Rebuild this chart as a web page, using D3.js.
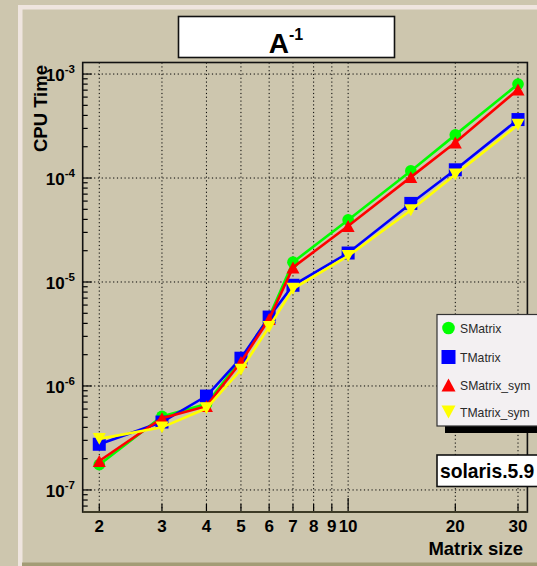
<!DOCTYPE html>
<html>
<head>
<meta charset="utf-8">
<script src="https://cdn.jsdelivr.net/npm/d3@7/dist/d3.min.js"></script>
<style>
html,body{margin:0;padding:0;background:#cdc6ae;}
svg{display:block;}
text{font-family:"Liberation Sans",Arial,Helvetica,sans-serif;}
</style>
</head>
<body>
<script>
// ---- data ----
const sizes = [2, 3, 4, 5, 6, 7, 10, 15, 20, 30];
const smatrix     = [1.75e-7, 5.1e-7, 6.7e-7, 1.8e-6, 4.6e-6, 1.55e-5, 3.95e-5, 1.17e-4, 2.6e-4, 8.0e-4];
const tmatrix     = [2.75e-7, 4.5e-7, 8.0e-7, 1.85e-6, 4.6e-6, 9.3e-6, 1.9e-5, 5.7e-5, 1.2e-4, 3.65e-4];
const smatrixSym  = [1.9e-7, 4.9e-7, 6.4e-7, 1.7e-6, 4.4e-6, 1.38e-5, 3.45e-5, 1.02e-4, 2.2e-4, 7.1e-4];
const tmatrixSym  = [3.1e-7, 4.0e-7, 6.1e-7, 1.43e-6, 3.7e-6, 8.6e-6, 1.78e-5, 4.9e-5, 1.08e-4, 3.25e-4];
const seriesNames = ["SMatrix", "TMatrix", "SMatrix_sym", "TMatrix_sym"];
const xTickValues = [2, 3, 4, 5, 6, 7, 8, 9, 10, 20, 30];
const yDecades = [-7, -6, -5, -4, -3];

const W = 537, H = 566;
const svg = d3.select("body").append("svg").attr("width", W).attr("height", H);

// background + pad bevel
svg.append("rect").attr("width", W).attr("height", H).attr("fill", "#cdc6ae");
svg.append("rect").attr("x", 18).attr("y", 5).attr("width", W - 18).attr("height", 4.5).attr("fill", "#efe5df");
svg.append("rect").attr("x", 18).attr("y", 5).attr("width", 4.5).attr("height", H - 5).attr("fill", "#efe5df");
svg.append("rect").attr("x", 22).attr("y", 562.5).attr("width", W - 22).attr("height", 4).attr("fill", "#a39c76");

// frame geometry
const fx0 = 82.7, fx1 = 527.4, fy0 = 62.5, fy1 = 512;
const x = d3.scaleLog().domain([Math.pow(10, 0.2545), Math.pow(10, 1.5035)]).range([fx0, fx1]);
const y = d3.scaleLog().domain([Math.pow(10, -7.212), Math.pow(10, -2.889)]).range([fy1, fy0]);

// grid
const grid = svg.append("g").attr("stroke", "#000").attr("stroke-width", 1).attr("stroke-dasharray", "1.2,2.6");
xTickValues.forEach(v => {
  grid.append("line").attr("x1", x(v)).attr("x2", x(v)).attr("y1", fy0).attr("y2", fy1);
});
yDecades.forEach(d => {
  const v = Math.pow(10, d);
  grid.append("line").attr("x1", fx0).attr("x2", fx1).attr("y1", y(v)).attr("y2", y(v));
});

// y ticks (major + minor) using the scale
const ytick = svg.append("g").attr("stroke", "#000").attr("stroke-width", 1.2);
const yMinor = [];
for (let d = -8; d <= -3; d++) for (let m = 1; m <= 9; m++) {
  const v = m * Math.pow(10, d);
  if (v >= y.domain()[0] && v <= y.domain()[1]) yMinor.push({v, major: m === 1});
}
yMinor.forEach(t => {
  ytick.append("line").attr("x1", fx0).attr("x2", fx0 + (t.major ? 9 : 5))
    .attr("y1", y(t.v)).attr("y2", y(t.v));
});
// x ticks
const xtick = svg.append("g").attr("stroke", "#000").attr("stroke-width", 1.2);
xTickValues.forEach(v => {
  xtick.append("line").attr("x1", x(v)).attr("x2", x(v)).attr("y1", fy1).attr("y2", fy1 - (v === 10 ? 14 : 8));
});

// frame
svg.append("rect").attr("x", fx0).attr("y", fy0).attr("width", fx1 - fx0).attr("height", fy1 - fy0)
  .attr("fill", "none").attr("stroke", "#111").attr("stroke-width", 1.6);
svg.append("line").attr("x1", fx0).attr("x2", fx1).attr("y1", fy1).attr("y2", fy1)
  .attr("stroke", "#3d3a26").attr("stroke-width", 2.2);

// y tick labels
yDecades.forEach(d => {
  const t = svg.append("text").attr("x", 75).attr("y", y(Math.pow(10, d)) + 7)
    .attr("text-anchor", "end").attr("font-weight", "bold").attr("font-size", 17).attr("fill", "#000");
  t.append("tspan").text("10");
  t.append("tspan").attr("font-size", 11.5).attr("dy", -8).text(String(d));
});
// x tick labels
xTickValues.forEach(v => {
  svg.append("text").attr("x", x(v)).attr("y", 532).attr("text-anchor", "middle")
    .attr("font-weight", "bold").attr("font-size", 17).attr("fill", "#000").text(v);
});

// axis titles
svg.append("text").attr("text-anchor", "end").attr("font-weight", "bold").attr("font-size", 18.5)
  .attr("transform", "translate(47,65) rotate(-90)").text("CPU Time");
svg.append("text").attr("x", 523).attr("y", 555).attr("text-anchor", "end").attr("font-weight", "bold")
  .attr("font-size", 18.5).text("Matrix size");

// title box
svg.append("rect").attr("x", 178.5).attr("y", 16.5).attr("width", 216).attr("height", 41)
  .attr("fill", "#fff").attr("stroke", "#111").attr("stroke-width", 1.6);
const tt = svg.append("text").attr("x", 286).attr("y", 53).attr("text-anchor", "middle")
  .attr("font-weight", "bold").attr("font-size", 28);
tt.append("tspan").text("A");
tt.append("tspan").attr("font-size", 16).attr("dy", -13).text("-1");

// markers
function marker(g, type, cx, cy, color, s) {
  if (type === "circle") {
    g.append("circle").attr("cx", cx).attr("cy", cy).attr("r", s * 0.45).attr("fill", color);
  } else if (type === "square") {
    g.append("rect").attr("x", cx - s / 2).attr("y", cy - s / 2).attr("width", s).attr("height", s).attr("fill", color);
  } else if (type === "up") {
    const h = s * 0.92;
    g.append("path").attr("d", `M${cx - s / 2},${cy + h / 2}L${cx + s / 2},${cy + h / 2}L${cx},${cy - h / 2}Z`).attr("fill", color);
  } else {
    const h = s * 0.92;
    g.append("path").attr("d", `M${cx - s / 2},${cy - h / 2}L${cx + s / 2},${cy - h / 2}L${cx},${cy + h / 2}Z`).attr("fill", color);
  }
}

const series = [
  {name: seriesNames[0], vals: smatrix, color: "#00ff00", type: "circle"},
  {name: seriesNames[1], vals: tmatrix, color: "#0000ff", type: "square"},
  {name: seriesNames[2], vals: smatrixSym, color: "#ff0000", type: "up"},
  {name: seriesNames[3], vals: tmatrixSym, color: "#ffff00", type: "down"}
];
const line = d3.line().x(d => x(d[0])).y(d => y(d[1]));
const plot = svg.append("g");
series.forEach(s => {
  const pts = sizes.map((v, i) => [v, s.vals[i]]);
  plot.append("path").datum(pts).attr("d", line).attr("fill", "none")
    .attr("stroke", s.color).attr("stroke-width", 2.6);
  pts.forEach(p => marker(plot, s.type, x(p[0]), y(p[1]), s.color, 13));
});

// legend
svg.append("rect").attr("x", 445).attr("y", 420).attr("width", 100).attr("height", 13).attr("fill", "#000");
svg.append("rect").attr("x", 437).attr("y", 314.5).attr("width", 110).attr("height", 111.5)
  .attr("fill", "#f3f0f2").attr("stroke", "#333").attr("stroke-width", 1.2);
const legY = [328, 357, 385, 412];
series.forEach((s, i) => {
  marker(svg, s.type, 448.5, legY[i], s.color, 14);
  svg.append("text").attr("x", 460).attr("y", legY[i] + 4.5).attr("font-size", 12.2)
    .attr("fill", "#2a2a2a").text(s.name);
});

// solaris label
svg.append("rect").attr("x", 437).attr("y", 455).attr("width", 110).attr("height", 31.5)
  .attr("fill", "#fff").attr("stroke", "#111").attr("stroke-width", 1.6);
svg.append("text").attr("x", 440).attr("y", 477.5).attr("font-weight", "bold").attr("font-size", 19.3)
  .text("solaris.5.9");
</script>
</body>
</html>
